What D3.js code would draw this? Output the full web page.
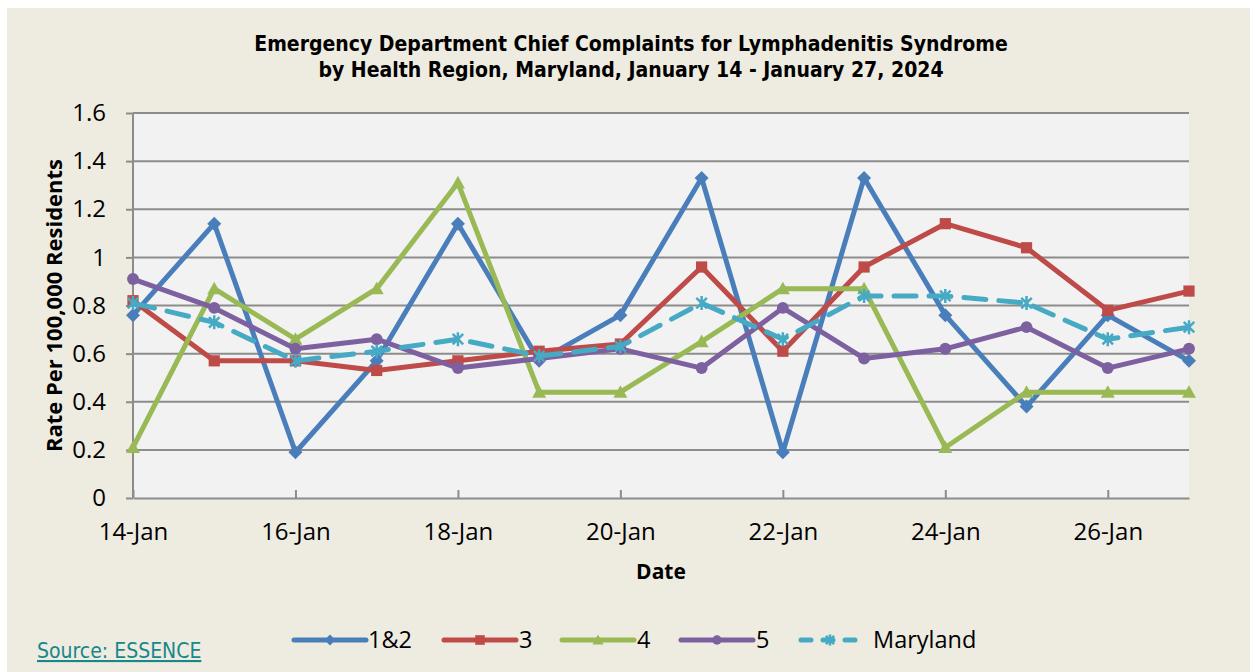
<!DOCTYPE html>
<html>
<head>
<meta charset="utf-8">
<script src="https://cdn.jsdelivr.net/npm/d3@7"></script>
<style>
  body { margin: 0; background: #ffffff; }
  svg { display: block; }
</style>
</head>
<body>
<div id="chart"></div>
<script>
// Chart data
var dates = ["14-Jan", "15-Jan", "16-Jan", "17-Jan", "18-Jan", "19-Jan", "20-Jan",
  "21-Jan", "22-Jan", "23-Jan", "24-Jan", "25-Jan", "26-Jan", "27-Jan"];
var region12 = [0.76, 1.14, 0.19, 0.57, 1.14, 0.57, 0.76, 1.33, 0.19, 1.33, 0.76, 0.38, 0.76, 0.57];
var region3 = [0.82, 0.57, 0.57, 0.53, 0.57, 0.61, 0.64, 0.96, 0.61, 0.96, 1.14, 1.04, 0.78, 0.86];
var region4 = [0.21, 0.87, 0.66, 0.87, 1.31, 0.44, 0.44, 0.65, 0.87, 0.87, 0.21, 0.44, 0.44, 0.44];
var region5 = [0.91, 0.79, 0.62, 0.66, 0.54, 0.58, 0.62, 0.54, 0.79, 0.58, 0.62, 0.71, 0.54, 0.62];
var maryland = [0.81, 0.73, 0.57, 0.61, 0.66, 0.59, 0.63, 0.81, 0.66, 0.84, 0.84, 0.81, 0.66, 0.71];
var yTicks = [0, 0.2, 0.4, 0.6, 0.8, 1, 1.2, 1.4, 1.6];
var xTickIdx = [0, 2, 4, 6, 8, 10, 12];

var series = [
  { name: "1&2", values: region12, color: "#4a7ebb", marker: "diamond" },
  { name: "3", values: region3, color: "#be4b48", marker: "square" },
  { name: "4", values: region4, color: "#98b954", marker: "triangle" },
  { name: "5", values: region5, color: "#7d60a0", marker: "circle" },
  { name: "Maryland", values: maryland, color: "#46aac5", marker: "star", dash: "22,13" }
];

var svgWidth = 1250;
var svgHeight = 672;
var margin = { top: 113, right: 61, bottom: 174, left: 133 };
var width = svgWidth - margin.left - margin.right;
var height = svgHeight - margin.top - margin.bottom;

var svg = d3.select("#chart")
  .append("svg")
  .attr("width", svgWidth)
  .attr("height", svgHeight);

// outer background with thin white edge at top/left
svg.append("rect")
  .attr("x", 7).attr("y", 8)
  .attr("width", svgWidth - 7).attr("height", svgHeight - 8)
  .attr("fill", "#eeebe0");

// Title
var title = svg.append("text")
  .attr("x", 631)
  .attr("text-anchor", "middle")
  .style("font-family", "'DejaVu Sans Condensed', 'DejaVu Sans', sans-serif")
  .style("font-weight", "bold")
  .style("font-size", "21px")
  .attr("fill", "#000");
title.append("tspan").attr("x", 631).attr("y", 51).text("Emergency Department Chief Complaints for Lymphadenitis Syndrome");
title.append("tspan").attr("x", 631).attr("y", 77).text("by Health Region, Maryland, January 14 - January 27, 2024");

var chartGroup = svg.append("g")
  .attr("transform", `translate(${margin.left}, ${margin.top})`);

chartGroup.append("rect")
  .attr("width", width)
  .attr("height", height)
  .attr("fill", "#f2f2f2");

var xScale = d3.scaleLinear()
  .domain([0, dates.length - 1])
  .range([0, width]);

var yScale = d3.scaleLinear()
  .domain([0, 1.6])
  .range([height, 0]);

// gridlines
chartGroup.append("g")
  .selectAll("line")
  .data(yTicks.slice(1))
  .enter()
  .append("line")
  .attr("x1", 0).attr("x2", width)
  .attr("y1", d => yScale(d)).attr("y2", d => yScale(d))
  .attr("stroke", "#8c8c8c")
  .attr("stroke-width", 2);

// axes
var leftAxis = d3.axisLeft(yScale)
  .tickValues(yTicks)
  .tickFormat(d => d3.format("")(+d.toFixed(1)))
  .tickSize(7)
  .tickPadding(20);

var bottomAxis = d3.axisBottom(xScale)
  .tickValues(xTickIdx)
  .tickFormat(i => dates[i])
  .tickSizeInner(-8)
  .tickSizeOuter(0)
  .tickPadding(25);

var yAxisG = chartGroup.append("g").call(leftAxis);
var xAxisG = chartGroup.append("g")
  .attr("transform", `translate(0, ${height})`)
  .call(bottomAxis);

[yAxisG, xAxisG].forEach(function(g) {
  g.select(".domain").attr("stroke", "#8c8c8c").attr("stroke-width", 2);
  g.selectAll(".tick line").attr("stroke", "#8c8c8c").attr("stroke-width", 2);
  g.selectAll("text")
    .attr("fill", "#000")
    .style("font-family", "'Open Sans', 'Liberation Sans', sans-serif")
    .style("font-size", "24px");
});
yAxisG.select(".domain").attr("d", `M0,0V${height}`);
xAxisG.selectAll("text").attr("dy", "0.71em");

// axis titles
chartGroup.append("text")
  .attr("transform", "rotate(-90)")
  .attr("x", -height / 2 + 0)
  .attr("y", -71)
  .attr("text-anchor", "middle")
  .style("font-family", "'Open Sans', 'Liberation Sans', sans-serif")
  .style("font-weight", "bold")
  .style("font-size", "22px")
  .text("Rate Per 100,000 Residents");

chartGroup.append("text")
  .attr("x", width / 2 + 0)
  .attr("y", height + 81)
  .attr("text-anchor", "middle")
  .style("font-family", "'Open Sans', 'Liberation Sans', sans-serif")
  .style("font-weight", "bold")
  .style("font-size", "21px")
  .text("Date");

// marker drawing
function drawMarker(sel, type, color, size) {
  var s = size;
  if (type === "diamond") {
    sel.append("path").attr("d", `M0,${-s}L${s},0L0,${s}L${-s},0Z`).attr("fill", color);
  } else if (type === "square") {
    sel.append("rect").attr("x", -s * 0.8).attr("y", -s * 0.8)
      .attr("width", s * 1.6).attr("height", s * 1.6).attr("fill", color);
  } else if (type === "triangle") {
    sel.append("path").attr("d", `M0,${-s}L${s},${s * 0.8}L${-s},${s * 0.8}Z`).attr("fill", color);
  } else if (type === "circle") {
    sel.append("circle").attr("r", s * 0.85).attr("fill", color);
  } else if (type === "star") {
    var k = s * 0.75;
    sel.append("path")
      .attr("d", `M${-k},${-k}L${k},${k}M${-k},${k}L${k},${-k}M0,${-s}L0,${s}`)
      .attr("stroke", color).attr("stroke-width", 2.5).attr("fill", "none");
  }
}

var line = d3.line()
  .x((d, i) => xScale(i))
  .y(d => yScale(d));

series.forEach(function(s) {
  chartGroup.append("path")
    .datum(s.values)
    .attr("d", line)
    .attr("fill", "none")
    .attr("stroke", s.color)
    .attr("stroke-width", 5)
    .attr("stroke-linejoin", "round")
    .attr("stroke-linecap", "round")
    .attr("stroke-dasharray", s.dash || null);

  chartGroup.append("g")
    .selectAll("g")
    .data(s.values)
    .enter()
    .append("g")
    .attr("transform", (d, i) => `translate(${xScale(i)},${yScale(d)})`)
    .each(function() { drawMarker(d3.select(this), s.marker, s.color, 7); });
});

// legend
var legendItems = [
  { x: 294, w: 72, tx: 368 },
  { x: 444, w: 72, tx: 519 },
  { x: 562, w: 72, tx: 637 },
  { x: 681, w: 72, tx: 756 },
  { x: 801, w: 58, tx: 873 }
];
var legend = svg.append("g");
series.forEach(function(s, i) {
  var it = legendItems[i];
  var g = legend.append("g").attr("transform", `translate(${it.x}, 640)`);
  g.append("line")
    .attr("x1", 0).attr("x2", it.w)
    .attr("stroke", s.color)
    .attr("stroke-width", 5)
    .attr("stroke-linecap", "round")
    .attr("stroke-dasharray", s.dash ? "10,12" : null);
  var m = g.append("g").attr("transform", `translate(${it.w / 2}, 0)`);
  drawMarker(m, s.marker, s.color, s.marker === "square" ? 6 : 5.5);
  legend.append("text")
    .attr("x", it.tx)
    .attr("y", 640)
    .attr("dy", "0.35em")
    .style("font-family", "'Open Sans', 'Liberation Sans', sans-serif")
    .style("font-size", "23.5px")
    .attr("fill", "#000")
    .text(s.name);
});

// source note
svg.append("text")
  .attr("x", 37)
  .attr("y", 658)
  .style("font-family", "'DejaVu Sans Condensed', 'DejaVu Sans', sans-serif")
  .style("font-size", "21px")
  .style("text-decoration", "underline")
  .attr("fill", "#17878a")
  .text("Source: ESSENCE");
</script>
</body>
</html>
